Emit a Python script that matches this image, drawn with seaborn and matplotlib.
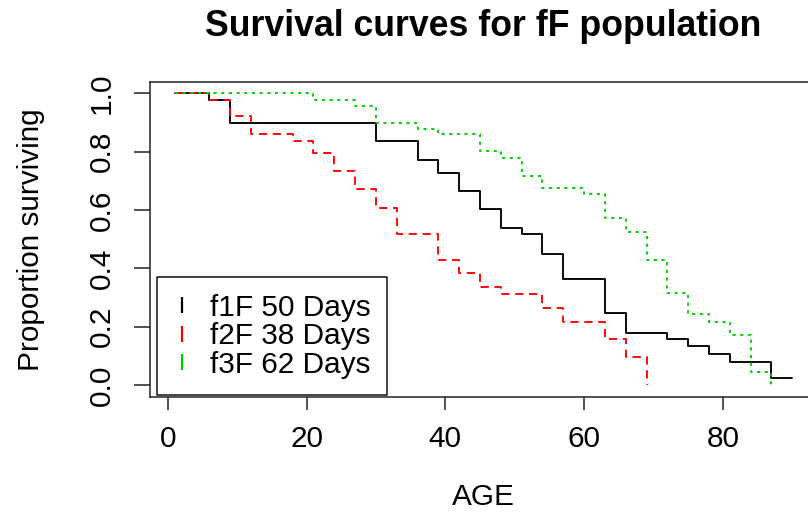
import matplotlib
matplotlib.use("Agg")
import matplotlib.pyplot as plt
from matplotlib.lines import Line2D
import numpy as np
import pandas as pd
import seaborn as sns

# Kaplan-Meier style survival estimates per population
groups = ["f1F 50 Days", "f2F 38 Days", "f3F 62 Days"]

age_f1 = [1, 6, 9, 30, 36, 39, 42, 45, 48, 51, 54, 57, 63, 66, 72, 75, 78, 81, 87, 90]
surv_f1 = [1.0, 0.977, 0.899, 0.836, 0.773, 0.727, 0.665, 0.602, 0.540, 0.518,
           0.450, 0.364, 0.247, 0.180, 0.159, 0.134, 0.108, 0.080, 0.023, 0.023]

age_f2 = [1, 6, 9, 12, 18, 21, 24, 27, 30, 33, 39, 42, 45, 48, 54, 57, 63, 66, 69]
surv_f2 = [1.0, 0.977, 0.922, 0.859, 0.836, 0.797, 0.734, 0.671, 0.608, 0.518,
           0.430, 0.383, 0.337, 0.311, 0.264, 0.217, 0.159, 0.096, 0.0]

age_f3 = [1, 21, 27, 30, 36, 39, 45, 48, 51, 54, 60, 63, 66, 69, 72, 75, 78, 81, 84, 87]
surv_f3 = [1.0, 0.977, 0.957, 0.899, 0.877, 0.859, 0.801, 0.780, 0.717, 0.675,
           0.655, 0.572, 0.524, 0.430, 0.315, 0.243, 0.217, 0.171, 0.046, 0.0]

x_ticks = [0, 20, 40, 60, 80]
y_ticks = [0.0, 0.2, 0.4, 0.6, 0.8, 1.0]

title = "Survival curves for fF population"
x_label = "AGE"
y_label = "Proportion surviving"

df = pd.concat([
    pd.DataFrame({"age": age_f1, "surv": surv_f1, "group": groups[0]}),
    pd.DataFrame({"age": age_f2, "surv": surv_f2, "group": groups[1]}),
    pd.DataFrame({"age": age_f3, "surv": surv_f3, "group": groups[2]}),
], ignore_index=True)

sns.set_style("white")
plt.rcParams["font.family"] = ["Liberation Sans", "DejaVu Sans"]
plt.rcParams["text.color"] = "black"
plt.rcParams["axes.labelcolor"] = "black"
plt.rcParams["xtick.color"] = "black"
plt.rcParams["ytick.color"] = "black"

colors = {groups[0]: "#000000", groups[1]: "#FF0000", groups[2]: "#00CD00"}
dash_map = {groups[0]: "", groups[1]: (4.4, 3.0), groups[2]: (1.7, 2.4)}

W, H = 808, 512
fig = plt.figure(figsize=(W / 100, H / 100), dpi=100)
fig.patch.set_facecolor("white")
ax = fig.add_axes([150 / W, 115.3 / H, 667 / W, 315 / H])

sns.lineplot(data=df, x="age", y="surv", hue="group", style="group",
             palette=colors, dashes=dash_map, drawstyle="steps-post",
             linewidth=1.35, estimator=None, sort=False, legend=False, ax=ax)

all_ages = age_f1 + age_f2 + age_f3
lo, hi = min(all_ages), max(all_ages)
span = hi - lo
ax.set_xlim(lo - 0.04 * span, hi + 0.04 * span)
ax.set_ylim(-0.04, 1.04)

ax.set_xticks(x_ticks)
ax.set_xticklabels([str(v) for v in x_ticks])
ax.set_yticks(y_ticks)
ax.set_yticklabels([f"{v:.1f}" for v in y_ticks], rotation=90, va="center")

fs = 21.4
ax.tick_params(axis="x", direction="out", length=9.5, width=1.1, pad=11,
               labelsize=fs, color="#222222", labelcolor="black", bottom=True)
ax.tick_params(axis="y", direction="out", length=11.5, width=1.1, pad=13,
               labelsize=fs, color="#222222", labelcolor="black", left=True)
for sp in ax.spines.values():
    sp.set_visible(True)
    sp.set_color("#222222")
    sp.set_linewidth(1.1)

ax.set_xlabel(x_label, fontsize=fs, color="black")
ax.set_ylabel(y_label, fontsize=fs, color="black")
ax.xaxis.set_label_coords(0.5, (396.7 - 497) / 315)
ax.xaxis.label.set_va("center")
ax.yaxis.set_label_coords((31 - 150) / 667, 0.5)
ax.yaxis.label.set_va("center")

ax.text(0.5, (396.7 - 26) / 315, title, transform=ax.transAxes,
        ha="center", va="center", fontsize=25.7, fontweight="bold",
        color="black")

handles = [Line2D([], [], color=colors[g], marker="|", linestyle="None",
                  markersize=11, markeredgewidth=1.6) for g in groups]
leg = ax.legend(handles, groups, loc="upper left",
                bbox_to_anchor=(157.3 / W, 1 - 277.3 / H),
                bbox_transform=fig.transFigure, borderaxespad=0,
                fontsize=fs, frameon=True, fancybox=False, framealpha=1,
                edgecolor="#111111", borderpad=0.55, labelspacing=0.02,
                handlelength=0.55, handletextpad=0.68)
leg.get_frame().set_linewidth(1.1)
for t in leg.get_texts():
    t.set_color("black")

fig.savefig("out.png", dpi=100, facecolor="white")
